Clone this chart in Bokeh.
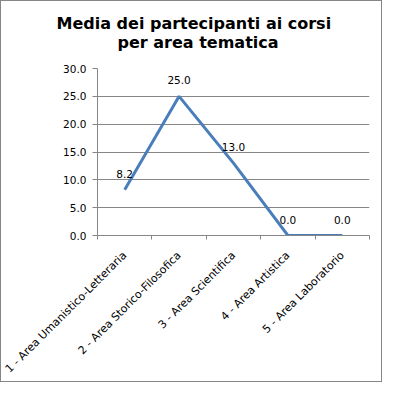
from bokeh.plotting import figure
from bokeh.models import (Range1d, FixedTicker, NumeralTickFormatter, ColumnDataSource,
                          LabelSet, Title)
from bokeh.core.properties import value
from bokeh.embed import file_html
from bokeh.resources import INLINE

categories = ["1 - Area Umanistico-Letteraria", "2 - Area Storico-Filosofica",
              "3 - Area Scientifica", "4 - Area Artistica", "5 - Area Laboratorio"]
values = [8.2, 25.0, 13.0, 0.0, 0.0]
value_labels = ["8.2", "25.0", "13.0", "0.0", "0.0"]
y_ticks = [0, 5, 10, 15, 20, 25, 30]
title_lines = ["Media dei partecipanti ai corsi", "per area tematica"]

xs = [i + 1 for i in range(len(categories))]
src = ColumnDataSource(dict(x=xs, y=values, lab=value_labels))

GREY = "#868686"
FONT = "DejaVu Sans"

p = figure(width=382, height=382, output_backend="svg", toolbar_location=None,
           x_range=Range1d(0.5, len(categories) + 0.5), y_range=Range1d(0, 30),
           min_border_left=96, min_border_right=14, min_border_top=67, min_border_bottom=147,
           outline_line_color=None, background_fill_color="white", border_fill_color="white")
p.styles = {"border": "1px solid " + GREY}

# titles (added bottom line first)
t2 = Title(text=title_lines[1], align="left", offset=20, text_font=FONT, text_font_size="16px",
           text_font_style="bold", text_color="black", standoff=34)
t1 = Title(text=title_lines[0], align="left", offset=-41, text_font=FONT, text_font_size="16px",
           text_font_style="bold", text_color="black", standoff=-38)
p.add_layout(t2, "above")
p.add_layout(t1, "above")

p.line("x", "y", source=src, line_color="#4A7EBB", line_width=3)

labels = LabelSet(x="x", y="y", text="lab", source=src, y_offset=16, text_align="center",
                  text_baseline="middle", text_font=value(FONT), text_font_size="10.5px",
                  text_color="black")
p.add_layout(labels)

# y axis
p.yaxis.ticker = FixedTicker(ticks=y_ticks, minor_ticks=[])
p.yaxis.formatter = NumeralTickFormatter(format="0.0")
p.yaxis.axis_line_color = GREY
p.yaxis.major_tick_line_color = GREY
p.yaxis.major_tick_out = 5
p.yaxis.major_tick_in = 0
p.yaxis.minor_tick_line_color = None
p.yaxis.major_label_text_font = FONT
p.yaxis.major_label_text_font_size = "10.5px"
p.yaxis.major_label_text_color = "black"
p.yaxis.major_label_standoff = 6

# x axis
p.xaxis.ticker = FixedTicker(ticks=xs, minor_ticks=[x - 0.5 for x in xs] + [xs[-1] + 0.5])
p.xaxis.major_label_overrides = {x: c for x, c in zip(xs, categories)}
p.xaxis.major_label_orientation = 0.785398
p.xaxis.axis_line_color = GREY
p.xaxis.major_tick_line_color = None
p.xaxis.minor_tick_line_color = GREY
p.xaxis.minor_tick_out = 4
p.xaxis.minor_tick_in = 0
p.xaxis.major_label_text_font = FONT
p.xaxis.major_label_text_font_size = "11px"
p.xaxis.major_label_text_color = "black"
p.xaxis.major_label_standoff = 12

p.xgrid.grid_line_color = None
p.ygrid.grid_line_color = GREY
p.ygrid.ticker = FixedTicker(ticks=y_ticks)

open("out.html", "w").write(file_html(p, INLINE))
